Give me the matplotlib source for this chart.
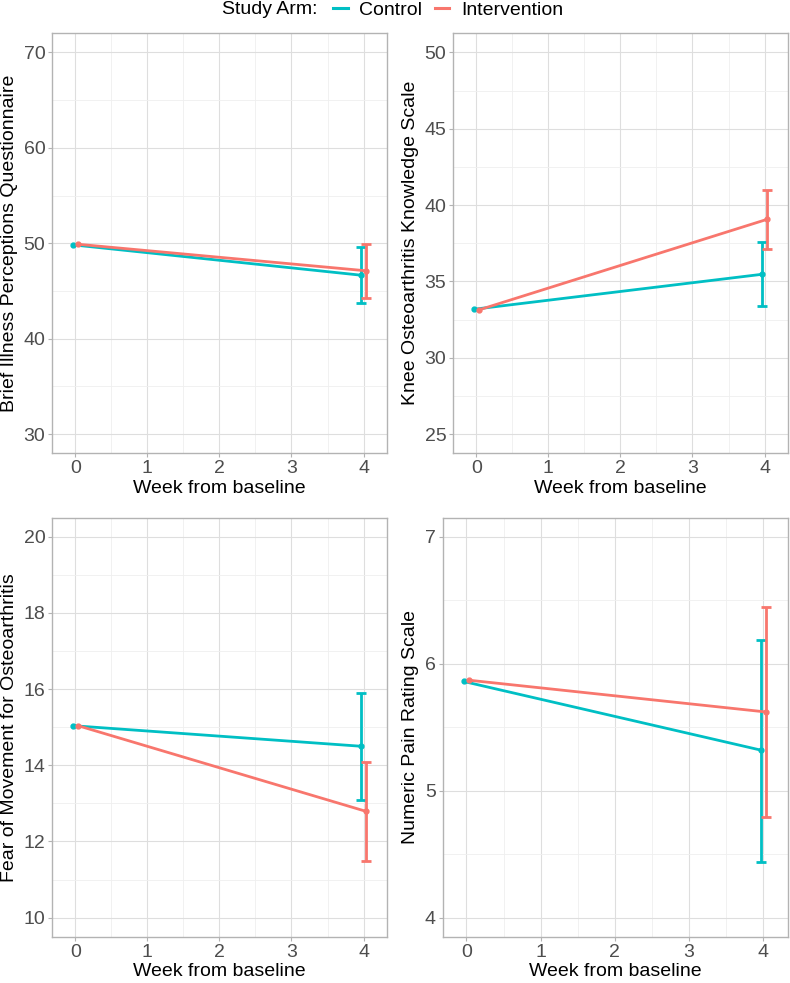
import numpy as np
import matplotlib.pyplot as plt
from matplotlib.lines import Line2D

plt.rcParams['font.family'] = ['Liberation Sans', 'DejaVu Sans']

# data
weeks = [0, 4]
arms = ['Control', 'Intervention']
arm_colors = {'Control': '#00BFC4', 'Intervention': '#F8766D'}

bipq_mean = {'Control': [49.84, 46.66], 'Intervention': [49.9, 47.12]}
bipq_lo = {'Control': [None, 43.73], 'Intervention': [None, 44.32]}
bipq_hi = {'Control': [None, 49.63], 'Intervention': [None, 49.92]}

koaks_mean = {'Control': [33.18, 35.47], 'Intervention': [33.14, 39.07]}
koaks_lo = {'Control': [None, 33.42], 'Intervention': [None, 37.15]}
koaks_hi = {'Control': [None, 37.57], 'Intervention': [None, 41.0]}

fmo_mean = {'Control': [15.04, 14.50], 'Intervention': [15.04, 12.79]}
fmo_lo = {'Control': [None, 13.10], 'Intervention': [None, 11.49]}
fmo_hi = {'Control': [None, 15.90], 'Intervention': [None, 14.09]}

nprs_mean = {'Control': [5.86, 5.32], 'Intervention': [5.87, 5.62]}
nprs_lo = {'Control': [None, 4.44], 'Intervention': [None, 4.79]}
nprs_hi = {'Control': [None, 6.19], 'Intervention': [None, 6.45]}

panels = [
    ('Brief Illness Perceptions Questionnaire', bipq_mean, bipq_lo, bipq_hi, [30, 40, 50, 60, 70], 5),
    ('Knee Osteoarthritis Knowledge Scale', koaks_mean, koaks_lo, koaks_hi, [25, 30, 35, 40, 45, 50], 2.5),
    ('Fear of Movement for Osteoarthritis', fmo_mean, fmo_lo, fmo_hi, [10, 12, 14, 16, 18, 20], 1),
    ('Numeric Pain Rating Scale', nprs_mean, nprs_lo, nprs_hi, [4, 5, 6, 7], 0.5),
]

W, H = 790, 983
boxes = [
    (52.3, 387.3, 33.3, 453.3),
    (453.3, 788.3, 33.3, 453.3),
    (52.3, 387.3, 517.7, 936.7),
    (442.7, 787.7, 517.7, 936.7),
]

dodge = {'Control': -0.036, 'Intervention': 0.036}

fig = plt.figure(figsize=(W / 100, H / 100), dpi=100)

for (ylab, mean, lo, hi, yticks, minor_half), (x0, x1, y0, y1) in zip(panels, boxes):
    ax = fig.add_axes([x0 / W, 1 - y1 / H, (x1 - x0) / W, (y1 - y0) / H])
    for arm in arms:
        c = arm_colors[arm]
        xs = np.array(weeks) + dodge[arm]
        ax.plot(xs, mean[arm], color=c, lw=2.0, zorder=3, solid_capstyle='butt')
        ax.plot(xs, mean[arm], 'o', color=c, ms=3.5, zorder=4)
        for x, m, l, h in zip(xs, mean[arm], lo[arm], hi[arm]):
            if l is None:
                continue
            ax.errorbar([x], [m], yerr=[[m - l], [h - m]], fmt='none', ecolor=c,
                        elinewidth=2.0, capsize=3.9, capthick=2.0, zorder=3)
    span = yticks[-1] - yticks[0]
    ax.set_ylim(yticks[0] - 0.05 * span, yticks[-1] + 0.05 * span)
    ax.set_xlim(-0.32, 4.33)
    ax.set_yticks(yticks)
    ax.set_xticks([0, 1, 2, 3, 4])
    ax.set_yticks(np.arange(yticks[0] + minor_half, yticks[-1], 2 * minor_half), minor=True)
    ax.set_xticks([0.5, 1.5, 2.5, 3.5], minor=True)
    ax.grid(True, which='major', color='#DEDEDE', lw=0.8, zorder=0)
    ax.grid(True, which='minor', color='#EFEFEF', lw=0.6, zorder=0)
    ax.set_axisbelow(True)
    for s in ax.spines.values():
        s.set_color('#B3B3B3')
        s.set_linewidth(1.0)
    ax.tick_params(which='major', colors='#B3B3B3', labelcolor='#4D4D4D',
                   labelsize=14, length=3, width=0.8, pad=2)
    ax.tick_params(which='minor', length=0)
    ax.set_xlabel('Week from baseline', fontsize=14, labelpad=2)
    ax.set_ylabel(ylab, fontsize=14, labelpad=4)

fig.text(318 / W, 1 - 10 / H, 'Study Arm:', ha='right', va='center', fontsize=14)
handles = [Line2D([], [], color=arm_colors[a], lw=2.2) for a in arms]
fig.legend(handles, arms, ncol=2, loc='center left', bbox_to_anchor=(333 / W, 1 - 10 / H),
           frameon=False, fontsize=14, handlelength=0.75, handletextpad=0.6,
           columnspacing=0.65, borderpad=0, borderaxespad=0)

fig.savefig('out.png', dpi=100)
